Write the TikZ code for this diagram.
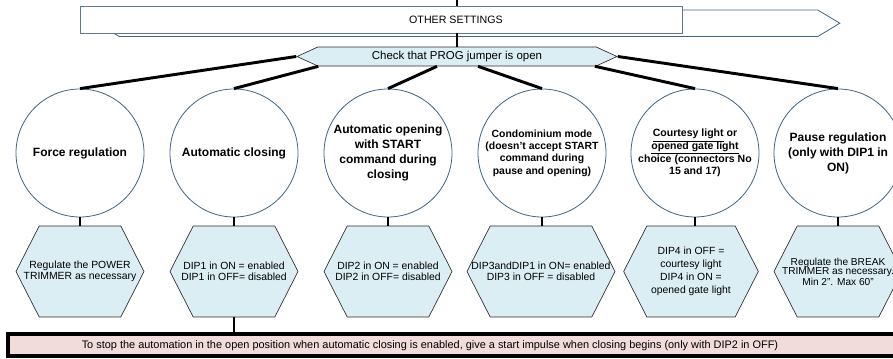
\documentclass[tikz,border=0pt]{standalone}
\usepackage{fontspec}
\setmainfont{Liberation Sans}
\usetikzlibrary{shapes.symbols}
\definecolor{rimblue}{RGB}{65,100,135}
\definecolor{boxgrey}{RGB}{95,120,145}
\definecolor{paleblue}{RGB}{219,238,244}
\definecolor{palepink}{RGB}{242,220,219}
\definecolor{hexline}{RGB}{45,45,45}
\begin{document}
\begin{tikzpicture}[x=0.75pt,y=0.75pt,yscale=-1,xscale=1,
    link/.style={line width=2.2pt},
    topic/.style={circle,draw=rimblue,fill=white,line width=0.6pt,minimum size=96pt,inner sep=0pt,align=center,font=\fontsize{9}{11.25}\selectfont\bfseries},
    smalltopic/.style={topic,font=\fontsize{7.8}{9.2}\selectfont\bfseries},
    hexa/.style={signal,signal to=east and west,signal pointer angle=126,draw=hexline,fill=paleblue,line width=0.5pt,minimum width=96pt,minimum height=68.25pt,inner xsep=-45pt,inner ysep=0pt,align=center,font=\fontsize{7.8}{7.9}\selectfont},
    banner/.style={font=\fontsize{8}{9.6}\selectfont}]
    \useasboundingbox (0,0) rectangle (893,359);
    % Header
    \node [signal,signal to=east and west,signal pointer angle=62,draw=rimblue,fill=white,line width=0.6pt,minimum width=557pt,minimum height=19.9pt,inner sep=0pt] (backarrow) at (468.5,23.25) {};
    \node [draw=boxgrey,fill=white,line width=0.7pt,minimum width=452pt,minimum height=20.25pt,inner sep=0pt] (topbox) at (381.5,19.5) {};
    \node [banner] (toptext) at (456,20) {OTHER SETTINGS};
    \coordinate (up) at (457,0);
    \draw [link] (up) -- (up |- topbox.north);
    % Check node
    \node [signal,signal to=east and west,signal pointer angle=49,draw=hexline,fill=paleblue,line width=0.5pt,minimum width=240pt,minimum height=14.25pt,inner sep=0pt,font=\fontsize{8.6}{10}\selectfont] (check) at (457,56.5) {Check that PROG jumper is open};
    \draw [link] (check.north |- topbox.south) -- (check.north);
    % Circles
    \node [topic] (force) at (80,153) {Force regulation};
    \node [topic] (autoclose) at (234,153) {Automatic closing};
    \node [topic] (autoopen) at (388,153) {Automatic opening\\with START\\command during\\closing};
    \node [smalltopic] (condo) at (542,153) {Condominium mode\\(doesn't accept START\\command during\\pause and opening)};
    \node [smalltopic,font=\fontsize{7.9}{9.5}\selectfont\bfseries] (courtesy) at (695,153) {\underline{Courtesy light} or\\\underline{opened gate light}\\choice (connectors No\\15 and 17)};
    \node [topic] (pause) at (838,153) {Pause regulation\\(only with DIP1 in\\ON)};
    % Connectors from the check node
    \draw [link] (check.west) -- (force.north);
    \draw [link] ([xshift=-104pt]check.south) -- (autoclose.north);
    \draw [link] ([xshift=-15pt]check.south) -- (autoopen.north);
    \draw [link] ([xshift=15.75pt]check.south) -- (condo.north);
    \draw [link] ([xshift=103.5pt]check.south) -- (courtesy.north);
    \draw [link] (check.east) -- (pause.north);
    % Hexagons
    \node [hexa] (forcehex) at (80,271.5) {Regulate the POWER\\TRIMMER as necessary};
    \node [hexa] (autoclosehex) at (234,271.5) {DIP1 in ON = enabled\\DIP1 in OFF= disabled};
    \node [hexa] (autoopenhex) at (388,271.5) {DIP2 in ON = enabled\\DIP2 in OFF= disabled};
    \node [hexa,minimum width=111pt] (condohex) at (541,271.5) {DIP3andDIP1 in ON= enabled\\DIP3 in OFF = disabled};
    \node [hexa,minimum width=101pt,font=\fontsize{7.8}{9.75}\selectfont] (courtesyhex) at (691,271.5) {DIP4 in OFF =\\courtesy light\\DIP4 in ON =\\opened gate light};
    \node [hexa,font=\fontsize{7.6}{7}\selectfont] (pausehex) at (838,271.5) {Regulate the BREAK\\TRIMMER as necessary.\\Min 2". Max 60"};
    \foreach \c in {force,autoclose,autoopen,condo,courtesy,pause}
      \draw [link] (\c.south) -- (\c.south |- \c hex.north);
    % Note
    \node [draw=black,fill=palepink,line width=2.6pt,minimum width=672pt,minimum height=16.2pt,inner sep=0pt] (note) at (456,345) {};
    \node [font=\fontsize{8.2}{9}\selectfont] (notetext) at (430,345.5) {To stop the automation in the open position when automatic closing is enabled, give a start impulse when closing begins (only with DIP2 in OFF)};
    \draw [link] (autoclosehex.south) -- (autoclosehex.south |- note.north);
\end{tikzpicture}
\end{document}
